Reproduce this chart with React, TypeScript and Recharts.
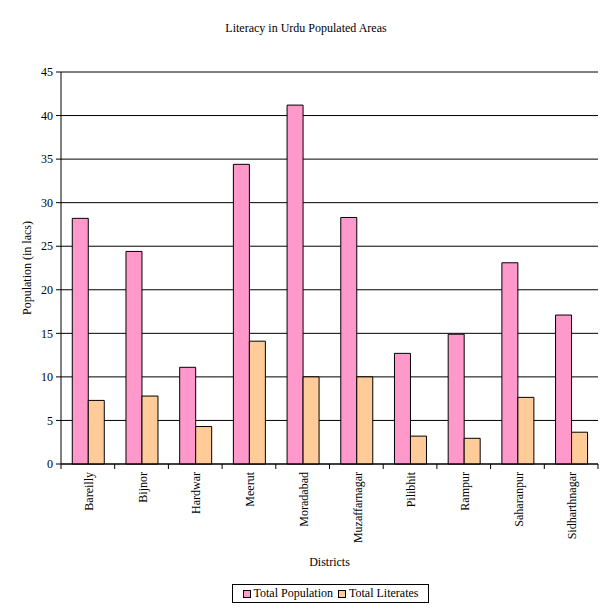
import { BarChart, Bar, XAxis, YAxis, CartesianGrid } from 'recharts';

const districts = [
  'Bareilly',
  'Bijnor',
  'Hardwar',
  'Meerut',
  'Moradabad',
  'Muzaffarnagar',
  'Pilibhit',
  'Rampur',
  'Saharanpur',
  'Sidharthnagar',
];
const totalPopulation = [28.2, 24.4, 11.1, 34.4, 41.2, 28.3, 12.7, 14.9, 23.1, 17.1];
const totalLiterates = [7.3, 7.8, 4.3, 14.1, 10.0, 10.0, 3.2, 2.95, 7.65, 3.65];
const yTicks = [0, 5, 10, 15, 20, 25, 30, 35, 40, 45];

const seriesNames = ['Total Population', 'Total Literates'];
const seriesColors = ['#ff99cc', '#ffcc99'];

const data = districts.map((d, i) => ({
  district: d,
  pop: totalPopulation[i],
  lit: totalLiterates[i],
}));

const W = 612;
const H = 612;
const LEFT = 61;
const RIGHT = 14;
const BAND = (W - LEFT - RIGHT) / districts.length;
const FONT = '"Liberation Serif", "Times New Roman", serif';

const DistrictTick = (props: any) => {
  const { x, y, payload, index } = props;
  const half = BAND / 2;
  return (
    <g>
      {index === 0 && <line x1={x - half} x2={x - half} y1={y} y2={y + 5} stroke="#000" />}
      <line x1={x + half} x2={x + half} y1={y} y2={y + 5} stroke="#000" />
      <text
        x={x + 1}
        y={y + 8}
        transform={`rotate(-90, ${x + 1}, ${y + 8})`}
        textAnchor="end"
        dy="0.35em"
        fontSize={12}
        fontFamily={FONT}
        fill="#000"
      >
        {payload.value}
      </text>
    </g>
  );
};

export default function App() {
  return (
    <div style={{ position: 'absolute', left: 0, top: 0, width: W, height: H, background: '#fff', fontFamily: FONT }}>
      <div
        style={{
          position: 'absolute',
          top: 21,
          left: 0,
          width: W,
          textAlign: 'center',
          fontSize: 12,
          color: '#000',
        }}
      >
        Literacy in Urdu Populated Areas
      </div>
      <BarChart
        width={W}
        height={H}
        data={data}
        margin={{ top: 72, right: RIGHT, left: 0, bottom: 44 }}
        barCategoryGap="21%"
        barGap={0}
      >
        <CartesianGrid vertical={false} stroke="#000" />
        <XAxis
          dataKey="district"
          height={104}
          interval={0}
          tickLine={false}
          tickSize={0}
          tickMargin={0}
          axisLine={{ stroke: '#000' }}
          tick={<DistrictTick />}
          label={{ value: 'Districts', position: 'insideBottom', offset: 2, fontSize: 12, fontFamily: FONT, fill: '#000' }}
        />
        <XAxis xAxisId="top" orientation="top" height={0} tick={false} tickLine={false} axisLine={{ stroke: '#808080' }} />
        <YAxis
          width={LEFT}
          domain={[0, 45]}
          ticks={yTicks}
          interval={0}
          tickSize={5}
          tickMargin={3}
          axisLine={{ stroke: '#000' }}
          tickLine={{ stroke: '#000' }}
          tick={{ fontSize: 12, fontFamily: FONT, fill: '#000' }}
          label={{
            value: 'Population (in lacs)',
            angle: -90,
            position: 'insideLeft',
            offset: 27,
            style: { textAnchor: 'middle' },
            fontSize: 12,
            fontFamily: FONT,
            fill: '#000',
          }}
        />
        <YAxis yAxisId="right" orientation="right" width={0} domain={[0, 45]} tick={false} tickLine={false} axisLine={{ stroke: '#808080' }} />
        <Bar dataKey="pop" name={seriesNames[0]} fill={seriesColors[0]} stroke="#000" strokeWidth={1} isAnimationActive={false} />
        <Bar dataKey="lit" name={seriesNames[1]} fill={seriesColors[1]} stroke="#000" strokeWidth={1} isAnimationActive={false} />
      </BarChart>
      <div
        style={{
          position: 'absolute',
          left: 232,
          top: 584,
          width: 195,
          height: 17,
          border: '1px solid #000',
          display: 'flex',
          alignItems: 'center',
          justifyContent: 'center',
          fontSize: 12,
          color: '#000',
          whiteSpace: 'nowrap',
        }}
      >
        {seriesNames.map((n, i) => (
          <span key={n} style={{ display: 'inline-flex', alignItems: 'center', marginRight: i === 0 ? 5 : 0 }}>
            <span
              style={{
                display: 'inline-block',
                width: 6,
                height: 6,
                border: '1px solid #000',
                background: seriesColors[i],
                marginRight: 3,
              }}
            />
            {n}
          </span>
        ))}
      </div>
    </div>
  );
}
